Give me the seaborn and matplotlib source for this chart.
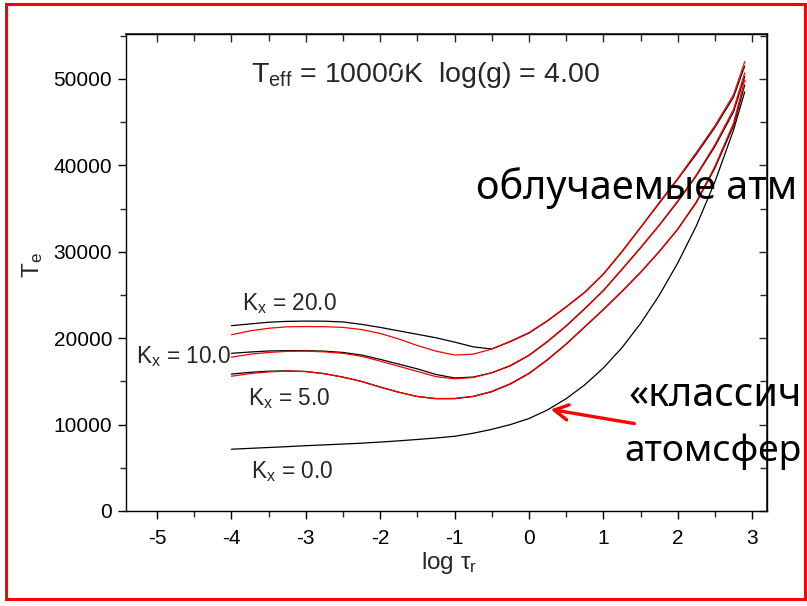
import numpy as np
import pandas as pd
import seaborn as sns
import matplotlib
matplotlib.use("Agg")
import matplotlib.pyplot as plt
from matplotlib.patches import Rectangle, FancyArrowPatch
from matplotlib.ticker import MultipleLocator

# ---------------- data ----------------
log_tau = [-4, -3.75, -3.5, -3.25, -3, -2.75, -2.5, -2.25, -2, -1.75, -1.5, -1.25,
           -1, -0.75, -0.5, -0.25, 0, 0.25, 0.5, 0.75, 1, 1.25, 1.5, 1.75, 2,
           2.25, 2.5, 2.75, 2.9]

k0_black = [7150, 7250, 7350, 7450, 7560, 7650, 7750, 7850, 7980, 8120, 8280, 8450,
            8650, 9000, 9450, 10000, 10700, 11700, 13000, 14600, 16550, 18900, 21700,
            24950, 28700, 33000, 38100, 44100, 48500]

k5_black = [15850, 16050, 16180, 16220, 16150, 15900, 15500, 15000, 14350, 13750, 13250,
            13000, 13000, 13250, 13800, 14700, 15900, 17500, 19300, 21300, 23300, 25400,
            27600, 30000, 32600, 35700, 39700, 44600, 49300]
k5_red = [15600, 15900, 16100, 16200, 16130, 15880, 15480, 14980, 14330, 13740, 13250,
          13020, 13030, 13280, 13850, 14750, 15950, 17550, 19350, 21350, 23350, 25450,
          27650, 30050, 32650, 35800, 39900, 44900, 49900]

k10_black = [18250, 18400, 18520, 18560, 18560, 18500, 18350, 18050, 17550, 17000, 16450,
             15800, 15400, 15500, 16000, 16800, 18000, 19600, 21400, 23400, 25500, 27950,
             30450, 33050, 35800, 38800, 42200, 46200, 50300]
k10_red = [17800, 18150, 18350, 18480, 18500, 18420, 18250, 17900, 17350, 16750, 16150,
           15550, 15300, 15450, 16000, 16850, 18050, 19650, 21450, 23450, 25550, 28000,
           30500, 33100, 35900, 38900, 42400, 46500, 50700]

k20_black = [21450, 21650, 21850, 21950, 21980, 21970, 21880, 21600, 21250, 20850, 20450,
             20050, 19550, 19000, 18750, 19600, 20600, 22000, 23600, 25300, 27400, 30000,
             32800, 35600, 38400, 41300, 44400, 47900, 51500]
k20_red = [20400, 20850, 21150, 21320, 21350, 21330, 21250, 21000, 20550, 19900, 19150,
           18500, 18050, 18150, 18750, 19650, 20650, 22050, 23650, 25350, 27450, 30050,
           32850, 35700, 38500, 41500, 44600, 48200, 52000]

x_ticks = [-5, -4, -3, -2, -1, 0, 1, 2, 3]
y_ticks = [0, 10000, 20000, 30000, 40000, 50000]

# ---------------- figure ----------------
sns.set_theme(style="ticks")
plt.rcParams["font.family"] = ["Liberation Sans", "DejaVu Sans"]
plt.rcParams["mathtext.fontset"] = "custom"
plt.rcParams["mathtext.rm"] = "Liberation Sans"
plt.rcParams["mathtext.it"] = "Liberation Sans"

W, H = 807, 606
fig = plt.figure(figsize=(W / 100, H / 100), dpi=100, facecolor="white")

def fx(px):
    return px / W

def fy(py):
    return 1 - py / H

L, R, T, B = 126, 767, 34, 511
ax = fig.add_axes([fx(L), fy(B), (R - L) / W, (B - T) / H])
ax.set_facecolor("white")

curves = [
    (k0_black, "black"),
    (k5_black, "black"),
    (k10_black, "black"),
    (k20_black, "black"),
    (k5_red, "red"),
    (k10_red, "red"),
    (k20_red, "red"),
]
for vals, col in curves:
    df = pd.DataFrame({"log_tau": log_tau, "T": vals})
    sns.lineplot(data=df, x="log_tau", y="T", color=col, linewidth=0.9,
                 sort=False, estimator=None, ax=ax)

ax.set_xlim(-5.417, 3.2)
ax.set_ylim(0, 55208)
ax.set_xticks(x_ticks)
ax.set_xticklabels([str(v) for v in x_ticks])
ax.set_yticks(y_ticks)
ax.set_yticklabels([str(v) for v in y_ticks])
ax.xaxis.set_minor_locator(MultipleLocator(0.5))
ax.yaxis.set_minor_locator(MultipleLocator(5000))
ax.set_xlabel("")
ax.set_ylabel("")
for s in ax.spines.values():
    s.set_visible(True)
    s.set_linewidth(1.0)
    s.set_color("black")
ax.tick_params(which="major", direction="out", length=6, width=1.0,
               labelsize=15, pad=4, colors="black")
ax.tick_params(which="minor", direction="out", length=4, width=1.0)
ax.tick_params(axis="x", which="major", pad=7)

# inward ticks on top and right
secx = ax.secondary_xaxis("top")
secx.set_xticks(x_ticks)
secx.xaxis.set_minor_locator(MultipleLocator(0.5))
secx.tick_params(which="both", direction="in", length=6, width=1.0, labeltop=False)
secx.tick_params(which="minor", length=5)
secy = ax.secondary_yaxis("right")
secy.set_yticks(y_ticks)
secy.yaxis.set_minor_locator(MultipleLocator(5000))
secy.tick_params(which="both", direction="in", length=6, width=1.0, labelright=False)
secy.tick_params(which="minor", length=5)

# axis titles
fig.text(fx(33), fy(265), "T$_{\\mathrm{e}}$", rotation=90, ha="center", va="center",
         fontsize=17.5)
fig.text(fx(449), fy(569), "log τ$_{\\mathrm{r}}$", ha="center", va="baseline",
         fontsize=17.5)

# in-plot labels
fig.text(fx(251), fy(82), "T$_{\\mathrm{eff}}$ = 10000K  log(g) = 4.00", ha="left",
         va="baseline", fontsize=20.5)
kx_labels = [("K$_{\\mathrm{x}}$ = 20.0", 242, 310),
             ("K$_{\\mathrm{x}}$ = 10.0", 136, 363),
             ("K$_{\\mathrm{x}}$ = 5.0", 248, 405),
             ("K$_{\\mathrm{x}}$ = 0.0", 251, 478)]
for txt, px, py in kx_labels:
    fig.text(fx(px), fy(py), txt, ha="left", va="baseline", fontsize=16.3)

# white arrows (slide overlay)
for (x0, y0), (x1, y1) in [((232, 213), (440, 35)), ((232, 213), (465, 83)),
                           ((248, 213), (515, 110))]:
    fig.add_artist(FancyArrowPatch((fx(x0), fy(y0)), (fx(x1), fy(y1)),
                                   transform=fig.transFigure,
                                   arrowstyle="->,head_length=6,head_width=3",
                                   color="white", lw=1.6, zorder=10))

# slide texts (the visible part of the slide's captions)
big = dict(family=["Noto Sans", "DejaVu Sans"], color="black", zorder=8)
fig.text(fx(476), fy(199), "облучаемые атм", ha="left", va="baseline",
         fontsize=28.5, **big)
fig.text(fx(628), fy(406), "«классич", ha="left", va="baseline", fontsize=28.5, **big)
fig.text(fx(624), fy(461), "атомсфер", ha="left", va="baseline", fontsize=26.8, **big)

# red arrow
fig.add_artist(FancyArrowPatch((fx(637), fy(424)), (fx(548), fy(409)),
                               transform=fig.transFigure,
                               arrowstyle="->,head_length=10,head_width=5.5",
                               color="red", lw=2.4, zorder=9))

# slide frame
fig.add_artist(Rectangle((fx(6), fy(599)), (805 - 6) / W, (599 - 4) / H,
                         transform=fig.transFigure, fill=False, edgecolor="red",
                         linewidth=2.2, zorder=20))

fig.savefig("out.png", dpi=100, facecolor="white")
